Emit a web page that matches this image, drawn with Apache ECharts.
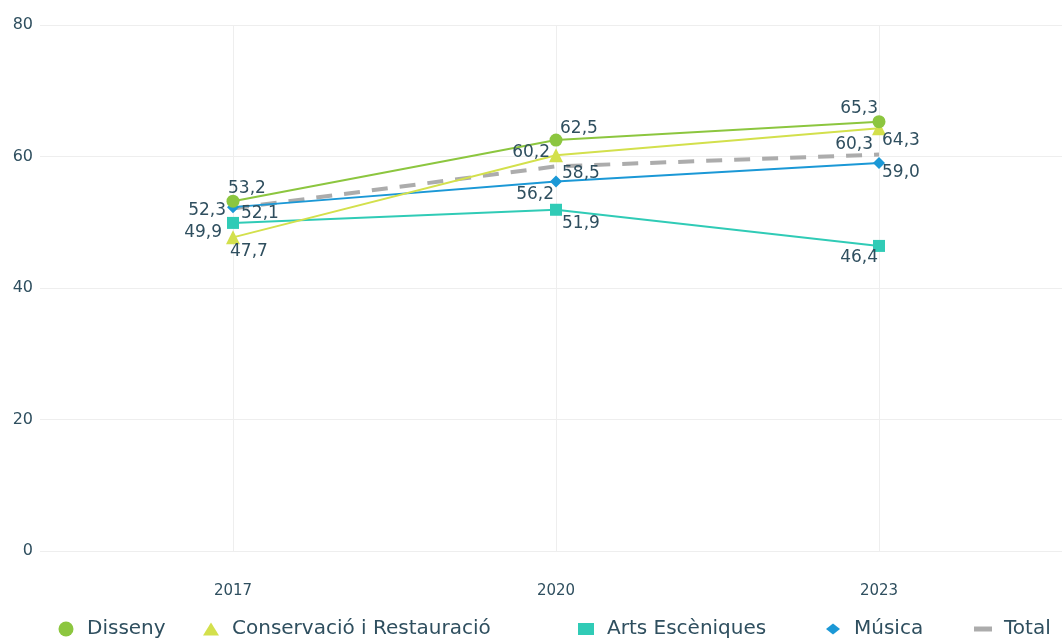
<!DOCTYPE html>
<html>
<head>
<meta charset="utf-8">
<script src="https://cdn.jsdelivr.net/npm/echarts@6/dist/echarts.min.js"></script>
<style>
html, body { margin: 0; padding: 0; background: #fff; }
#chart { width: 1062px; height: 639px; }
</style>
</head>
<body>
<div id="chart"></div>
<script>
var years = [2017, 2020, 2023];
var disseny = [53.2, 62.5, 65.3];
var conservacio = [47.7, 60.2, 64.3];
var arts = [49.9, 51.9, 46.4];
var musica = [52.3, 56.2, 59.0];
var total = [52.1, 58.5, 60.3];

var FONT = 'DejaVu Sans';
var TEXT = '#2f4f5f';

// label placement per point: [align, dx, dy]
var labelPos = {
    'Disseny': [['left', -5, -13], ['left', 4, -11], ['right', -1, -13]],
    'Conservació i Restauració': [['left', -3, 14], ['right', -6, -3], ['left', 3, 12]],
    'Arts Escèniques': [['right', -11, 10], ['left', 6, 14], ['right', -1, 12]],
    'Música': [['right', -7, 3], ['right', -2, 13], ['left', 3, 10]],
    'Total': [['left', 8, 5], ['left', 6, 7], ['right', -6, -10]]
};

function makeSeries(name, values, color, symbol, size, lineStyle) {
    return {
        name: name,
        type: 'line',
        symbol: symbol,
        symbolSize: size,
        itemStyle: { color: color },
        lineStyle: lineStyle,
        emphasis: { disabled: true },
        data: values.map(function (v, i) {
            var p = labelPos[name][i];
            return {
                value: [years[i], v],
                label: { align: p[0], offset: [p[1], p[2]] }
            };
        }),
        label: {
            show: true,
            position: 'inside',
            verticalAlign: 'middle',
            color: TEXT,
            fontFamily: FONT,
            fontSize: 17,
            textBorderWidth: 0,
            formatter: function (p) { return p.value[1].toFixed(1).replace('.', ','); }
        }
    };
}

// legend items: name, icon, icon centre x, icon width, icon height
var legendItems = [
    ['Disseny', 'circle', 66, 15, 15],
    ['Conservació i Restauració', 'triangle', 211, 16, 13],
    ['Arts Escèniques', 'rect', 586, 16, 12],
    ['Música', 'diamond', 833, 14, 11],
    ['Total', 'rect', 983, 18, 5]
];

var chart = echarts.init(document.getElementById('chart'));
chart.setOption({
    animation: false,
    grid: { left: 40, right: 0, top: 25, bottom: 88 },
    xAxis: {
        type: 'value',
        min: 2015.2074,
        max: 2024.6997,
        axisLine: { show: false },
        axisTick: { show: false, customValues: years },
        axisLabel: {
            customValues: years,
            formatter: function (v) { return String(v); },
            color: TEXT, fontFamily: FONT, fontSize: 15, margin: 33
        },
        splitLine: { show: true, lineStyle: { color: '#eeeeee', width: 1 } }
    },
    yAxis: {
        type: 'value',
        min: 0,
        max: 80,
        interval: 20,
        axisLine: { show: false },
        axisTick: { show: false },
        axisLabel: { color: TEXT, fontFamily: FONT, fontSize: 16, margin: 7 },
        splitLine: { lineStyle: { color: '#eeeeee', width: 1 } }
    },
    legend: legendItems.map(function (l) {
        return {
            data: [{ name: l[0], icon: l[1] }],
            left: l[2] - l[3] / 2,
            top: 619,
            padding: 0,
            itemWidth: l[3],
            itemHeight: l[4],
            itemGap: 0,
            selectedMode: false,
            textStyle: {
                color: TEXT, fontFamily: FONT, fontSize: 20,
                padding: [0, 0, 0, 21 - l[3] / 2 - 5]
            }
        };
    }),
    series: [
        makeSeries('Total', total, '#acacac', 'circle', 0.1, { color: '#acacac', width: 4, type: [16, 12] }),
        makeSeries('Arts Escèniques', arts, '#30cbb6', 'rect', 12, { color: '#30cbb6', width: 2 }),
        makeSeries('Música', musica, '#1b98d6', 'diamond', 12, { color: '#1b98d6', width: 2 }),
        makeSeries('Conservació i Restauració', conservacio, '#d3e04c', 'triangle', 14, { color: '#d3e04c', width: 2 }),
        makeSeries('Disseny', disseny, '#8cc63f', 'circle', 13, { color: '#8cc63f', width: 2 })
    ]
});
</script>
</body>
</html>
